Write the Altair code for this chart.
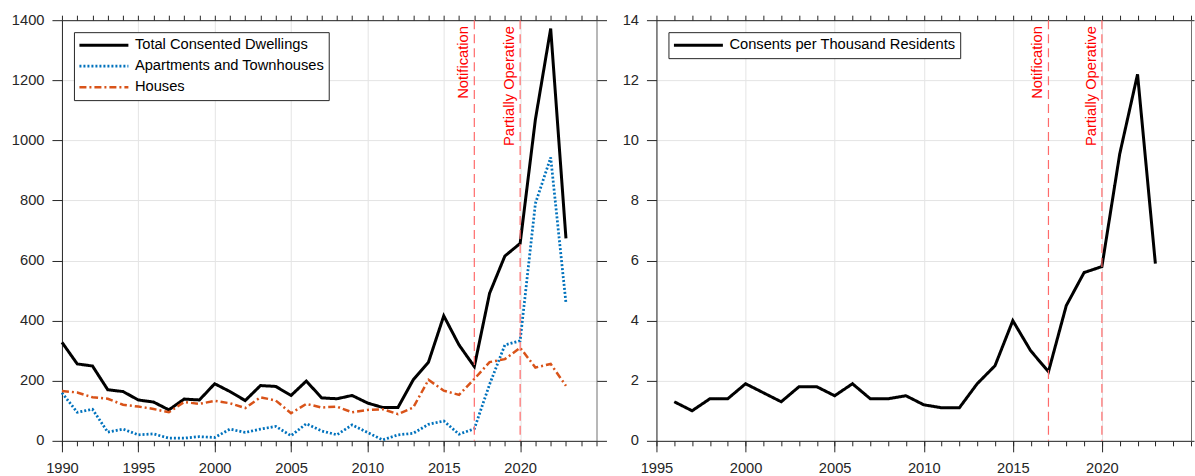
import altair as alt
import pandas as pd

FONT = "Liberation Sans"
AXIS_COLOR = "#262626"
FS = 14.7

# Building consents, 1990-2023
years = list(range(1990, 2024))
total = [328, 256, 249, 170, 164, 136, 129, 103, 139, 136, 190, 164, 134, 184, 181,
         151, 199, 143, 140, 151, 126, 111, 111, 203, 262, 416, 319, 247, 491, 615,
         657, 1070, 1372, 674]
apartments = [160, 95, 105, 29, 39, 20, 23, 9, 9, 14, 11, 39, 28, 39, 48,
              17, 57, 33, 20, 53, 28, 3, 20, 25, 55, 66, 22, 40, 188, 319,
              333, 790, 943, 459]
houses = [166, 161, 145, 140, 120, 114, 106, 95, 129, 123, 133, 125, 109, 145, 134,
          92, 123, 111, 114, 95, 103, 105, 89, 111, 203, 167, 153, 206, 262, 272,
          310, 244, 256, 183]

# Consents per thousand residents, 1996-2023
rate_years = list(range(1996, 2024))
rate = [1.3, 1.0, 1.4, 1.4, 1.9, 1.6, 1.3, 1.8, 1.8, 1.5, 1.9, 1.4, 1.4, 1.5,
        1.2, 1.1, 1.1, 1.9, 2.5, 4.0, 3.0, 2.3, 4.5, 5.6, 5.8, 9.55, 12.2, 5.9]

# Policy milestones
event_years = [2017, 2020]
event_labels = ["Notification", "Partially Operative"]

left_series = ["Total Consented Dwellings", "Apartments and Townhouses", "Houses"]
left_colors = ["#000000", "#0072BD", "#D95319"]
left_dashes = [[1, 0], [2, 2], [7, 3, 2, 3]]
left_widths = [3, 2.5, 2.5]

right_series = ["Consents per Thousand Residents"]

left_df = pd.concat([
    pd.DataFrame({"Year": years, "Value": vals, "Series": name})
    for name, vals in zip(left_series, [total, apartments, houses])
], ignore_index=True)
right_df = pd.DataFrame({"Year": rate_years, "Value": rate, "Series": right_series[0]})
events_df = pd.DataFrame({"Year": event_years, "Label": event_labels})

W, H = 535, 421


def panel(data, x_dom, y_dom, y_step, series, colors, dashes, widths, right_tick):
    xs = alt.Scale(domain=x_dom, nice=False, zero=False)
    ys = alt.Scale(domain=y_dom, nice=False)
    x_major = list(range(x_dom[0], x_dom[1], 5))
    x_minor = list(range(x_dom[0], x_dom[1] + 1))
    y_ticks = list(range(y_dom[0], y_dom[1] + 1, y_step))

    legend = alt.Legend(
        title=None, orient="top-left", offset=12, symbolType="stroke",
        symbolSize=2401, symbolStrokeWidth=3, clipHeight=18, rowPadding=3, padding=4,
        labelFont=FONT, labelFontSize=FS, labelColor="black", labelOffset=5,
        labelLimit=0, strokeColor=AXIS_COLOR, fillColor="white",
    )

    enc = dict(
        x=alt.X("Year:Q", scale=xs, title=None,
                axis=alt.Axis(orient="bottom", values=x_major, format="d",
                              tickSize=11, labelPadding=9, labelFlush=False, grid=True)),
        y=alt.Y("Value:Q", scale=ys, title=None,
                axis=alt.Axis(orient="left", values=y_ticks, format="d", tickSize=10,
                              labelPadding=8, labelFlush=False, grid=True)),
        color=alt.Color("Series:N", scale=alt.Scale(domain=series, range=colors), legend=legend),
        strokeDash=alt.StrokeDash("Series:N", scale=alt.Scale(domain=series, range=dashes), legend=legend),
    )
    if len(series) > 1:
        enc["strokeWidth"] = alt.StrokeWidth(
            "Series:N", scale=alt.Scale(domain=series, range=widths), legend=legend)
        lines = alt.Chart(data).mark_line().encode(**enc)
    else:
        lines = alt.Chart(data).mark_line(strokeWidth=widths[0]).encode(**enc)

    ghost = alt.Chart(data).mark_point(opacity=0)
    minor_bottom = ghost.encode(
        x=alt.X("Year:Q", scale=xs, title=None,
                axis=alt.Axis(orient="bottom", values=x_minor, labels=False,
                              tickSize=5, grid=False, domain=False)),
        y=alt.Y("Value:Q", scale=ys, axis=None),
    )
    top = ghost.encode(
        x=alt.X("Year:Q", scale=xs, title=None,
                axis=alt.Axis(orient="top", values=x_minor, labels=False,
                              tickSize=5, grid=False)),
        y=alt.Y("Value:Q", scale=ys, axis=None),
    )
    right = ghost.encode(
        x=alt.X("Year:Q", scale=xs, axis=None),
        y=alt.Y("Value:Q", scale=ys, title=None,
                axis=alt.Axis(orient="right", values=y_ticks, labels=False,
                              tickSize=right_tick, grid=False, domainColor="#707070")),
    )

    rules = alt.Chart(events_df).mark_rule(
        color="#ff6b6b", strokeDash=[9, 5], strokeWidth=1.2
    ).encode(x=alt.X("Year:Q", scale=xs, axis=None))

    labels = alt.Chart(events_df).mark_text(
        angle=270, align="right", baseline="alphabetic", dy=-6,
        color="#ff0000", font=FONT, fontSize=FS,
    ).encode(
        x=alt.X("Year:Q", scale=xs, axis=None),
        y=alt.value(6),
        text="Label:N",
    )

    return alt.layer(lines, minor_bottom, top, right, rules, labels).resolve_axis(
        x="independent", y="independent"
    ).properties(width=W, height=H)


left = panel(left_df, [1990, 2025], [0, 1400], 200,
             left_series, left_colors, left_dashes, left_widths, 10)
right = panel(right_df, [1995, 2025], [0, 14], 2,
              right_series, ["#000000"], [[1, 0]], [3], 3)

chart = alt.hconcat(left, right, spacing=60, bounds="flush").resolve_scale(
    color="independent", strokeDash="independent", strokeWidth="independent"
).resolve_legend(
    color="independent", strokeDash="independent", strokeWidth="independent"
).properties(
    padding={"left": 11, "top": 12, "right": 0, "bottom": 0}
).configure_view(stroke=None).configure_axis(
    labelFont=FONT, labelFontSize=FS, labelColor=AXIS_COLOR,
    tickColor=AXIS_COLOR, domainColor=AXIS_COLOR, tickWidth=1, domainWidth=1,
    gridColor="#e4e4e4", gridWidth=1,
)

chart.save("out.html", embed_options={"renderer": "svg", "actions": False})
